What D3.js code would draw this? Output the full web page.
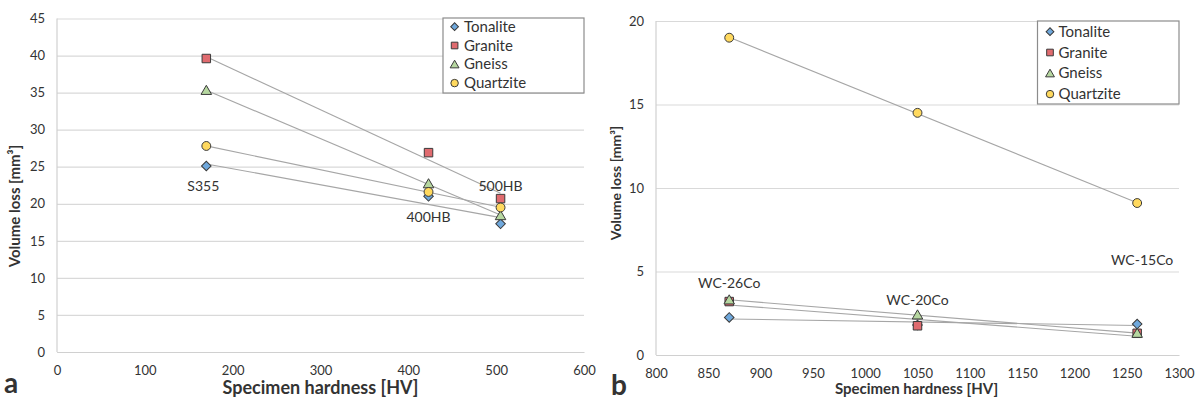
<!DOCTYPE html>
<html>
<head>
<meta charset="utf-8">
<script src="https://cdn.jsdelivr.net/npm/d3@7"></script>
<style>
  html, body { margin: 0; padding: 0; background: #fff; }
  svg { display: block; }
  text { font-family: Lato, "Open Sans", sans-serif; fill: #333; }
</style>
</head>
<body>
<svg id="chart" width="1198" height="401"></svg>
<script>
// ---------- DATA ----------
const seriesNames = ["Tonalite", "Granite", "Gneiss", "Quartzite"];

// Panel a
const aHardness = [170, 423, 505];
const aTonalite = [25.1, 21.0, 17.3];
const aGranite = [39.6, 26.9, 20.7];
const aGneiss = [35.3, 22.7, 18.4];
const aQuartzite = [27.8, 21.6, 19.5];
const aMaterials = ["S355", "400HB", "500HB"];
const aMaterialLabelValues = [22.4, 18.2, 22.4];
const aXTicks = [0, 100, 200, 300, 400, 500, 600];
const aYTicks = [0, 5, 10, 15, 20, 25, 30, 35, 40, 45];

// Panel b
const bHardness = [870, 1050, 1260];
const bTonalite = [2.25, 1.8, 1.85];
const bGranite = [3.2, 1.75, 1.3];
const bGneiss = [3.3, 2.4, 1.3];
const bQuartzite = [19.0, 14.5, 9.1];
const bMaterials = ["WC-26Co", "WC-20Co", "WC-15Co"];
const bMaterialLabelValues = [4.3, 3.3, 5.7];
const bXTicks = [800, 850, 900, 950, 1000, 1050, 1100, 1150, 1200, 1250, 1300];
const bYTicks = [0, 5, 10, 15, 20];

// ---------- STYLE ----------
const styles = {
  Tonalite:  { fill: "#6fa8dc", symbol: "diamond" },
  Granite:   { fill: "#e06b6f", symbol: "square" },
  Gneiss:    { fill: "#b6d7a0", symbol: "triangle" },
  Quartzite: { fill: "#ffd95e", symbol: "circle" }
};

const svg = d3.select("#chart");

function markerPath(kind) {
  if (kind === "diamond") return d3.symbol(d3.symbolSquare, 46)();
  if (kind === "square") return d3.symbol(d3.symbolSquare, 72)();
  if (kind === "triangle") return d3.symbol(d3.symbolTriangle, 48)();
  return d3.symbol(d3.symbolCircle, 62)();
}
function markerTransform(kind, x, y) {
  if (kind === "diamond") return `translate(${x},${y}) rotate(45)`;
  if (kind === "triangle") return `translate(${x},${y + 1})`;
  return `translate(${x},${y})`;
}

function linreg(xs, ys) {
  const mx = d3.mean(xs), my = d3.mean(ys);
  let sxy = 0, sxx = 0;
  xs.forEach((x, i) => { sxy += (x - mx) * (ys[i] - my); sxx += (x - mx) * (x - mx); });
  const m = sxy / sxx;
  return x => my + m * (x - mx);
}

function panel(cfg) {
  const g = svg.append("g");
  const x = d3.scaleLinear().domain(cfg.xDomain).range([cfg.left, cfg.right]);
  const y = d3.scaleLinear().domain(cfg.yDomain).range([cfg.bottom, cfg.top]);

  // gridlines
  const gy = g.append("g").attr("transform", `translate(${cfg.left},0)`)
    .call(d3.axisLeft(y).tickValues(cfg.yTicks).tickSize(-(cfg.right - cfg.left)).tickFormat(d => d).tickPadding(12));
  gy.select(".domain").remove();
  gy.selectAll(".tick line").attr("stroke", "#d9d9d9").attr("stroke-width", 1.2);
  gy.selectAll(".tick text").attr("font-size", cfg.tickFont).attr("fill", "#444")
    .style("font-family", "Lato, sans-serif");

  // vertical axis line
  g.append("line").attr("x1", cfg.left).attr("x2", cfg.left)
    .attr("y1", cfg.top).attr("y2", cfg.bottom).attr("stroke", "#d0d0d0").attr("stroke-width", 1.2);

  const gx = g.append("g").attr("transform", `translate(0,${cfg.bottom})`)
    .call(d3.axisBottom(x).tickValues(cfg.xTicks).tickSize(0).tickFormat(d => d).tickPadding(14));
  gx.select(".domain").attr("stroke", "#d0d0d0").attr("stroke-width", 1.2);
  gx.selectAll(".tick text").attr("font-size", cfg.tickFont).attr("fill", "#444")
    .style("font-family", "Lato, sans-serif");

  // trendlines
  const xs = cfg.hardness;
  const x0 = d3.min(xs), x1 = d3.max(xs);
  cfg.series.forEach(s => {
    const f = linreg(xs, s.values);
    g.append("line")
      .attr("x1", x(x0)).attr("y1", y(f(x0)))
      .attr("x2", x(x1)).attr("y2", y(f(x1)))
      .attr("stroke", "#a6a6a6").attr("stroke-width", 1.1);
  });

  // markers
  cfg.series.forEach(s => {
    const st = styles[s.name];
    g.append("g").selectAll("path").data(s.values).join("path")
      .attr("d", markerPath(st.symbol))
      .attr("transform", (d, i) => markerTransform(st.symbol, x(xs[i]), y(d)))
      .attr("fill", st.fill).attr("stroke", "#3a3a3a").attr("stroke-width", 1);
  });

  // material labels
  g.append("g").selectAll("text").data(cfg.materials).join("text")
    .attr("x", (d, i) => x(xs[i]) + cfg.labelDx[i])
    .attr("y", (d, i) => y(cfg.labelValues[i]) + 5)
    .attr("text-anchor", "middle")
    .attr("font-size", 14).attr("fill", "#333")
    .text(d => d);

  // legend
  const L = cfg.legend;
  g.append("rect").attr("x", L.x).attr("y", L.y).attr("width", L.w).attr("height", L.h)
    .attr("fill", "#fff").attr("stroke", "#8c8c8c").attr("stroke-width", 1.2);
  seriesNames.forEach((name, i) => {
    const st = styles[name];
    const cy = L.y + L.first + i * L.step;
    g.append("path").attr("d", d3.symbol(
        st.symbol === "circle" ? d3.symbolCircle : st.symbol === "triangle" ? d3.symbolTriangle : d3.symbolSquare,
        st.symbol === "diamond" ? 30 : st.symbol === "square" ? 44 : st.symbol === "triangle" ? 34 : 44)())
      .attr("transform", markerTransform(st.symbol, L.x + L.mx, cy))
      .attr("fill", st.fill).attr("stroke", "#3a3a3a").attr("stroke-width", 1);
    g.append("text").attr("x", L.x + L.tx).attr("y", cy + 5)
      .attr("font-size", 15).attr("fill", "#222").text(name);
  });

  // axis titles
  g.append("text").attr("x", (cfg.left + cfg.right) / 2 + cfg.xTitleDx).attr("y", cfg.xTitleY)
    .attr("text-anchor", "middle").attr("font-weight", "bold").attr("font-size", cfg.xTitleFont)
    .attr("fill", "#111").text("Specimen hardness [HV]");
  g.append("text")
    .attr("transform", `translate(${cfg.yTitleX},${cfg.yTitleCY}) rotate(-90)`)
    .attr("text-anchor", "middle").attr("font-weight", "bold").attr("font-size", cfg.yTitleFont)
    .attr("fill", "#111").text("Volume loss [mm³]");

  // panel letter
  g.append("text").attr("x", cfg.letterX).attr("y", cfg.letterY)
    .attr("font-weight", "bold").attr("font-size", 28).attr("fill", "#000").text(cfg.letter);
}

panel({
  xDomain: [0, 600], yDomain: [0, 45],
  left: 57, right: 584, top: 18.5, bottom: 352,
  xTicks: aXTicks, yTicks: aYTicks, tickFont: 13,
  hardness: aHardness,
  series: [
    { name: "Tonalite", values: aTonalite },
    { name: "Granite", values: aGranite },
    { name: "Gneiss", values: aGneiss },
    { name: "Quartzite", values: aQuartzite }
  ],
  materials: aMaterials, labelValues: aMaterialLabelValues, labelDx: [-3, 0, 0],
  legend: { x: 443, y: 18, w: 141, h: 75, first: 8.7, step: 18.8, mx: 11.6, tx: 21 },
  xTitleY: 394, xTitleDx: 0, xTitleFont: 18,
  yTitleX: 20, yTitleCY: 206, yTitleFont: 15,
  letter: "a", letterX: 4, letterY: 393
});

panel({
  xDomain: [800, 1300], yDomain: [0, 20],
  left: 656, right: 1179, top: 21, bottom: 355,
  xTicks: bXTicks, yTicks: bYTicks, tickFont: 13,
  hardness: bHardness,
  series: [
    { name: "Tonalite", values: bTonalite },
    { name: "Granite", values: bGranite },
    { name: "Gneiss", values: bGneiss },
    { name: "Quartzite", values: bQuartzite }
  ],
  materials: bMaterials, labelValues: bMaterialLabelValues, labelDx: [0, 0, 5],
  legend: { x: 1037.5, y: 21, w: 141.5, h: 83, first: 10.7, step: 20.8, mx: 12.5, tx: 21 },
  xTitleY: 394, xTitleDx: -1, xTitleFont: 15,
  yTitleX: 621, yTitleCY: 183, yTitleFont: 14,
  letter: "b", letterX: 611, letterY: 395
});
</script>
</body>
</html>
